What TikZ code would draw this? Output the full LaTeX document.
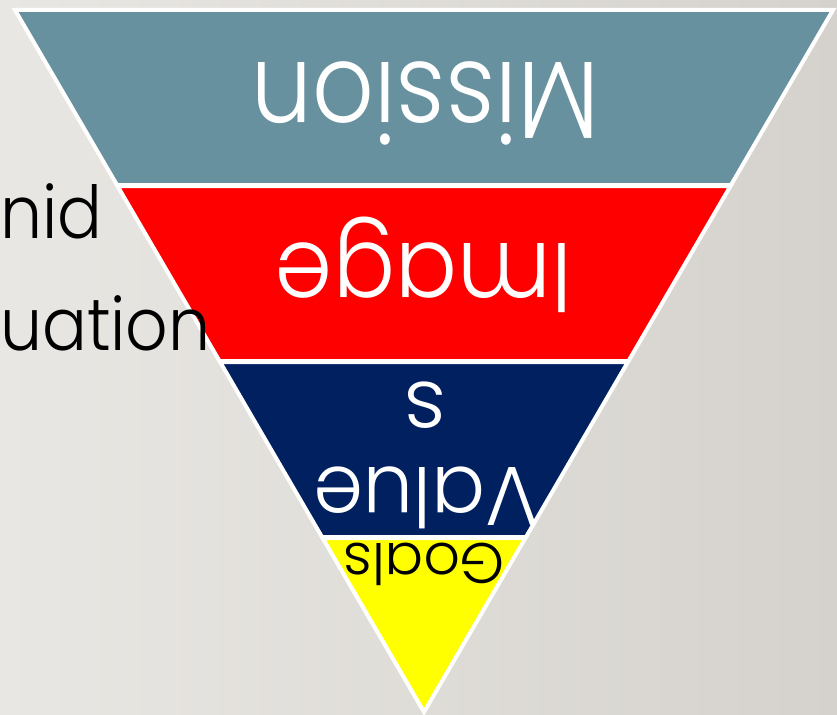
\documentclass[tikz,border=0pt]{standalone}
\usepackage{fontspec}
\setmainfont{Poppins}[UprightFont=* Light]
\usetikzlibrary{calc}
\definecolor{bgL}{HTML}{E9E7E3}
\definecolor{bgR}{HTML}{D5D2CD}
\definecolor{missionC}{HTML}{6891A0}
\definecolor{imageC}{HTML}{FF0000}
\definecolor{valuesC}{HTML}{002060}
\definecolor{goalsC}{HTML}{FFFF00}
\tikzset{
  band/.style={draw=white, line width=4pt, line join=miter},
  flipped/.style={rotate=180, anchor=base, inner sep=0pt, outer sep=0pt},
  sidetext/.style={anchor=base west, inner sep=0pt, font=\fontsize{73}{80}\selectfont, text=black}
}
\begin{document}
\begin{tikzpicture}[x=1pt,y=-1pt]
\useasboundingbox (0,0) rectangle (837,714);
\shade[left color=bgL, right color=bgR] (0,0) rectangle (837,714);
% bands
\path[band, fill=missionC] (15,10) -- (833,10) -- (731.0,185) -- (117.0,185) -- cycle;
\path[band, fill=imageC] (117.5,186) -- (730.5,186) -- (628.5,361) -- (219.5,361) -- cycle;
\path[band, fill=valuesC] (220.1,362) -- (627.9,362) -- (526,537) -- (322,537) -- cycle;
\path[band, fill=goalsC] (322.6,538) -- (525.4,538) -- (424,712) -- cycle;
% labels
\node[flipped, xscale=0.88, text=white, font=\fontsize{110}{120}\selectfont] (mission) at (425,63) {Mission};
\node[flipped, xscale=0.93, text=white, font=\fontsize{99}{110}\selectfont] (image) at (424,243) {Image};
\node[flipped, xscale=0.96, text=white, font=\fontsize{83}{90}\selectfont] (value) at (426,467) {Value};
\node[flipped, text=white, font=\fontsize{83}{90}\selectfont] (s) at (425,382) {s};
\node[flipped, text=black, font=\fontsize{57}{60}\selectfont] (goals) at (424,543) {Goals};
% side text
\node[sidetext, xscale=0.91] (nid) at (0,238) {nid};
\node[sidetext, xscale=0.91] (uation) at (0,350) {uation};
\end{tikzpicture}
\end{document}
